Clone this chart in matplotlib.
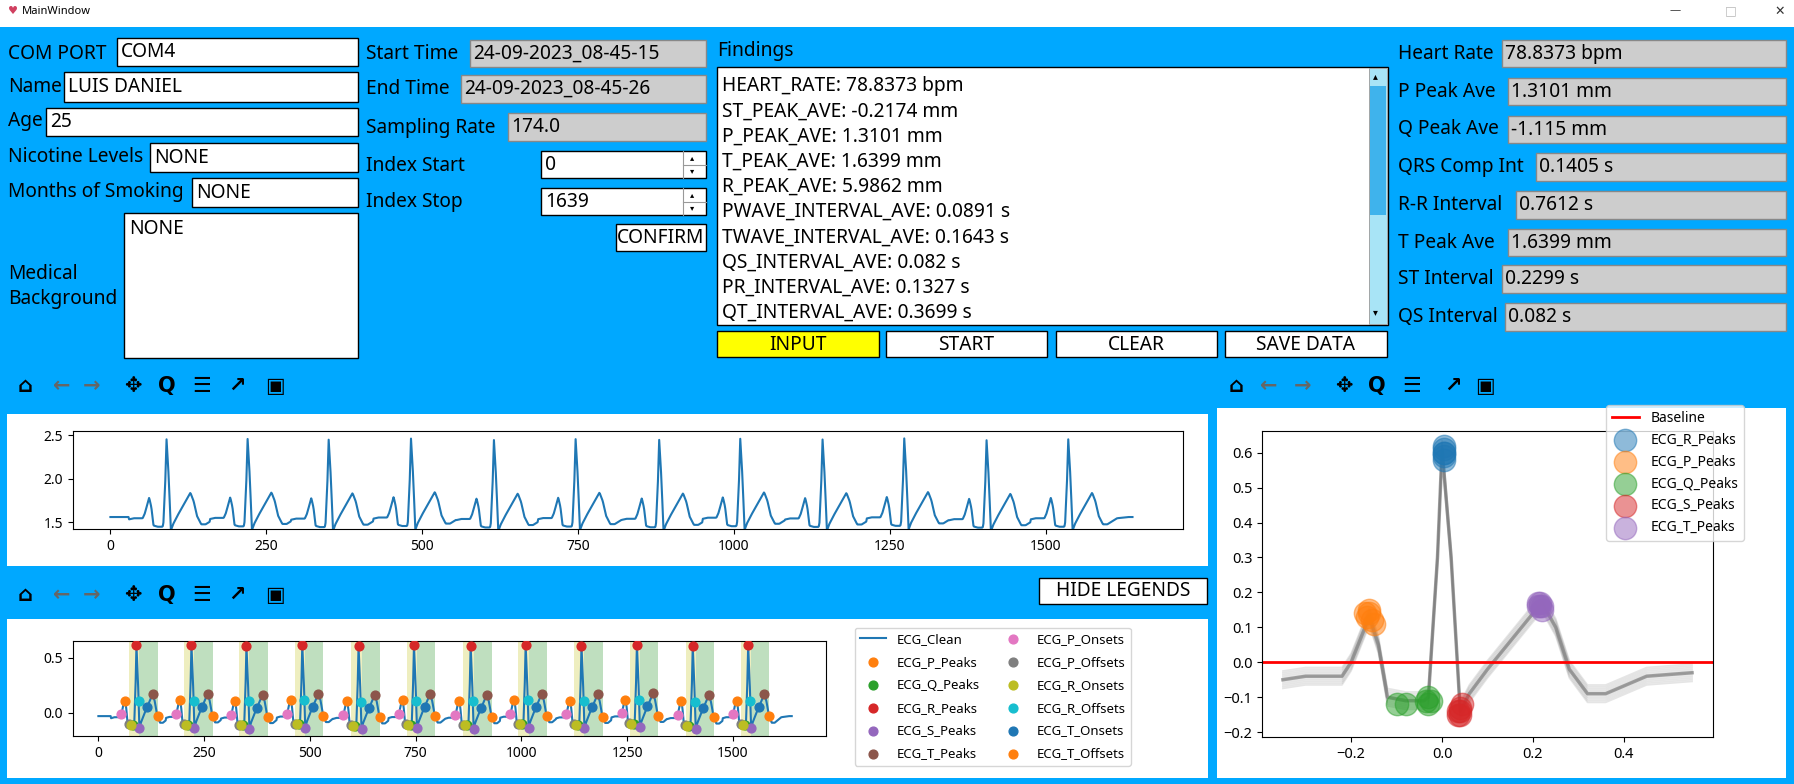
import numpy as np
import matplotlib
matplotlib.use("Agg")
import matplotlib.pyplot as plt
from matplotlib.patches import Rectangle

plt.rcParams['font.family'] = ['Noto Sans', 'DejaVu Sans']

W, H = 1794, 784
FS = 174.0

# ---------------- data ----------------
r_peaks = [90, 220, 350, 482, 615, 746, 880, 1010, 1142, 1273, 1405, 1536]
tmpl_t = [-0.35, -0.30, -0.22, -0.20, -0.16, -0.14, -0.12, -0.08, -0.04, -0.03, -0.01,
          0.0, 0.02, 0.04, 0.06, 0.10, 0.15, 0.20, 0.22, 0.25, 0.28, 0.32, 0.36, 0.45, 0.55]
tmpl_v = [-0.05, -0.04, -0.04, 0.00, 0.13, 0.05, -0.10, -0.11, -0.11, -0.10, 0.30,
          0.61, 0.30, -0.14, -0.09, -0.02, 0.06, 0.14, 0.17, 0.10, -0.02, -0.09, -0.09, -0.04, -0.03]
beat_offsets = [0.0, 0.01, -0.01, 0.02, -0.02, 0.005, -0.015, 0.015, -0.005, 0.025, -0.025, 0.0]
raw_offset, raw_gain = 1.60, 1.40
n_samples = 1640

wave_points = {  # sample offsets relative to R peak
    'ECG_P_Peaks': -27, 'ECG_Q_Peaks': -8, 'ECG_R_Peaks': 0, 'ECG_S_Peaks': 7,
    'ECG_T_Peaks': 38, 'ECG_P_Onsets': -36, 'ECG_P_Offsets': -18, 'ECG_R_Onsets': -13,
    'ECG_R_Offsets': 5, 'ECG_T_Onsets': 25, 'ECG_T_Offsets': 50}
wave_colors = {'ECG_P_Peaks': 'C1', 'ECG_Q_Peaks': 'C2', 'ECG_R_Peaks': 'C3', 'ECG_S_Peaks': 'C4',
               'ECG_T_Peaks': 'C5', 'ECG_P_Onsets': 'C6', 'ECG_P_Offsets': 'C7',
               'ECG_R_Onsets': 'C8', 'ECG_R_Offsets': 'C9', 'ECG_T_Onsets': 'C0', 'ECG_T_Offsets': 'C1'}

avg_peaks = {'ECG_R_Peaks': ([0.005] * 6, [0.61, 0.60, 0.58, 0.62, 0.59, 0.60], 'C0'),
             'ECG_P_Peaks': ([-0.165, -0.16, -0.155, -0.16, -0.17, -0.15], [0.13, 0.14, 0.12, 0.15, 0.14, 0.11], 'C1'),
             'ECG_Q_Peaks': ([-0.1, -0.08, -0.03, -0.035, -0.03, -0.025], [-0.12, -0.12, -0.10, -0.11, -0.12, -0.11], 'C2'),
             'ECG_S_Peaks': ([0.035, 0.04, 0.04, 0.045, 0.035, 0.04], [-0.15, -0.14, -0.13, -0.12, -0.14, -0.15], 'C3'),
             'ECG_T_Peaks': ([0.21, 0.215, 0.22, 0.215, 0.22, 0.21], [0.17, 0.16, 0.15, 0.17, 0.16, 0.16], 'C4')}

findings = ["HEART_RATE: 78.8373 bpm", "ST_PEAK_AVE: -0.2174 mm", "P_PEAK_AVE: 1.3101 mm",
            "T_PEAK_AVE: 1.6399 mm", "R_PEAK_AVE: 5.9862 mm", "PWAVE_INTERVAL_AVE: 0.0891 s",
            "TWAVE_INTERVAL_AVE: 0.1643 s", "QS_INTERVAL_AVE: 0.082 s", "PR_INTERVAL_AVE: 0.1327 s",
            "QT_INTERVAL_AVE: 0.3699 s"]

# ---------------- build signals ----------------
n = np.arange(n_samples)
clean = np.full(n_samples, -0.03)
for k, r in enumerate(r_peaks):
    t = (n - r) / FS
    m = (t >= -0.35) & (t <= 0.55)
    clean[m] = np.interp(t[m], tmpl_t, tmpl_v) + beat_offsets[k] * 0.3
raw = raw_offset + raw_gain * clean

BLUE = '#00a8ff'
F = 13.8
fig = plt.figure(figsize=(W / 100, H / 100), dpi=100)
fig.patch.set_facecolor(BLUE)
ov = fig.add_axes([0, 0, 1, 1])
ov.set_xlim(0, W); ov.set_ylim(H, 0); ov.axis('off')

def box(x0, y0, x1, y1, fc='white', ec='black', lw=1.0):
    ov.add_patch(Rectangle((x0, y0), x1 - x0, y1 - y0, fc=fc, ec=ec, lw=lw))

def txt(x, y, s, fs=F, **kw):
    ov.text(x, y, s, fontsize=fs, va='center', **kw)

# title bar
box(0, 0, W, 27, fc='white', ec='none')
txt(8, 11, '\u2665', fs=8, color='#d04060')
txt(22, 11, 'MainWindow', fs=8)
txt(1670, 11, '\u2014', fs=8, color='#333')
txt(1725, 11, '\u25a1', fs=9, color='#bbb')
txt(1774, 11, '\u2715', fs=9, color='#333')

# left column
left = [("COM PORT", 54, 117, 38, 66, "COM4"), ("Name", 87, 64, 72, 102, "LUIS DANIEL"),
        ("Age", 121, 46, 108, 136, "25"), ("Nicotine Levels", 157, 150, 143, 172, "NONE"),
        ("Months of Smoking", 192, 192, 178, 207, "NONE")]
for lab, y, bx, y0, y1, val in left:
    txt(8, y, lab)
    box(bx, y0, 358, y1)
    txt(bx + 4, (y0 + y1) / 2, val)
box(124, 213, 358, 358)
txt(129, 229, "NONE")
txt(8, 274, "Medical"); txt(8, 299, "Background")

# middle column
mid = [("Start Time", 54, 470, 40, 67, "24-09-2023_08-45-15"),
       ("End Time", 89, 461, 75, 103, "24-09-2023_08-45-26"),
       ("Sampling Rate", 128, 508, 113, 141, "174.0")]
for lab, y, bx, y0, y1, val in mid:
    txt(366, y, lab)
    box(bx, y0, 706, y1, fc='#cdcdcd', ec='#888')
    txt(bx + 3, (y0 + y1) / 2, val)
for lab, y, y0, y1, val in [("Index Start", 166, 151, 178, "0"), ("Index Stop", 202, 188, 215, "1639")]:
    txt(366, y, lab)
    box(541, y0, 706, y1)
    txt(545, (y0 + y1) / 2, val)
    ov.plot([683, 683], [y0, y1], color='#999', lw=0.8)
    ov.plot([683, 706], [(y0 + y1) / 2] * 2, color='#999', lw=0.8)
    txt(690, y0 + 7, '\u25b4', fs=6); txt(690, y1 - 7, '\u25be', fs=6)
box(616, 224, 706, 251)
txt(661, 238, "CONFIRM", ha='center')

# findings
txt(717, 51, "Findings")
box(717, 67, 1388, 325)
for i, s in enumerate(findings):
    txt(722, 86 + i * 25.2, s)
box(1369, 68, 1387, 324, fc='#a8e4f6', ec='#999', lw=0.6)
box(1370, 86, 1386, 215, fc='#3fb3ec', ec='none')
txt(1373, 77, '\u25b4', fs=7); txt(1373, 313, '\u25be', fs=7)
for lab, x0, x1, fc in [("INPUT", 717, 879, '#ffff00'), ("START", 886, 1047, 'white'),
                        ("CLEAR", 1056, 1217, 'white'), ("SAVE DATA", 1225, 1387, 'white')]:
    box(x0, 331, x1, 357, fc=fc)
    txt((x0 + x1) / 2, 345, lab, ha='center')

# right column
right = [("Heart Rate", 54, 1502, 40, 67, "78.8373 bpm"), ("P Peak Ave", 92, 1508, 78, 105, "1.3101 mm"),
         ("Q Peak Ave", 129, 1508, 116, 143, "-1.115 mm"), ("QRS Comp Int", 167, 1536, 153, 181, "0.1405 s"),
         ("R-R Interval", 205, 1516, 191, 219, "0.7612 s"), ("T Peak Ave", 243, 1508, 229, 256, "1.6399 mm"),
         ("ST Interval", 279, 1502, 265, 293, "0.2299 s"), ("QS Interval", 317, 1505, 303, 331, "0.082 s")]
for lab, y, bx, y0, y1, val in right:
    txt(1398, y, lab)
    box(bx, y0, 1786, y1, fc='#cdcdcd', ec='#888')
    txt(bx + 3, (y0 + y1) / 2, val)

# toolbars
icons = ['\u2302', '\u2190', '\u2192', '\u2725', 'Q', '\u2630', '\u2197', '\u25a3']
icol = ['black', '#666', '#666', 'black', 'black', 'black', 'black', 'black']
for xs, y in [([25, 62, 92, 133, 167, 202, 237, 275], 386), ([25, 62, 92, 133, 167, 202, 237, 275], 595),
              ([1236, 1269, 1303, 1344, 1377, 1412, 1453, 1485], 386)]:
    for x, ic, c in zip(xs, icons, icol):
        txt(x, y, ic, fs=15, ha='center', color=c, fontweight='bold', family=['DejaVu Sans'])
box(1039, 578, 1207, 604)
txt(1123, 591, "HIDE LEGENDS", ha='center')

# white panels
box(7, 414, 1208, 566, ec='none')
box(7, 619, 1208, 778, ec='none')
box(1217, 408, 1786, 778, ec='none')

def pax(x0, y0, x1, y1):
    return fig.add_axes([x0 / W, 1 - y1 / H, (x1 - x0) / W, (y1 - y0) / H])

# top raw plot
a1 = pax(73, 431, 1183, 529)
a1.plot(n, raw, color='C0', lw=1.5)
a1.set_xlim(-60, 1720); a1.set_ylim(1.42, 2.55)
a1.set_xticks([0, 250, 500, 750, 1000, 1250, 1500]); a1.set_yticks([1.5, 2.0, 2.5])
a1.tick_params(labelsize=10)

# bottom annotated plot
a2 = pax(73, 641, 826, 736)
a2.plot(n, clean, color='C0', lw=1.5, label='ECG_Clean', zorder=2)
for r in r_peaks:
    a2.axvspan(r - 17, r + 7, color='y', alpha=0.25, lw=0)
    a2.axvspan(r + 7, r + 50, color='g', alpha=0.25, lw=0)
for name, off in wave_points.items():
    idx = [r + off for r in r_peaks if 0 <= r + off < n_samples]
    a2.scatter(idx, clean[idx], color=wave_colors[name], s=40, zorder=3, label=name)
a2.set_xlim(-60, 1720); a2.set_ylim(-0.21, 0.65)
a2.set_xticks([0, 250, 500, 750, 1000, 1250, 1500]); a2.set_yticks([0.0, 0.5])
a2.tick_params(labelsize=10)
a2.legend(loc='upper left', bbox_to_anchor=(848 / W, 1 - 621 / H), bbox_transform=fig.transFigure,
          ncol=2, fontsize=9.5, labelspacing=0.75, columnspacing=1.5)

# right averaged-beat plot
a3 = pax(1262, 431, 1713, 737)
for k, r in enumerate(r_peaks):
    tt = np.array(tmpl_t); vv = np.array(tmpl_v) + beat_offsets[k]
    a3.plot(tt, vv, color='grey', alpha=0.2, lw=1.2)
a3.plot(tmpl_t, tmpl_v, color='grey', alpha=0.7, lw=2.5)
a3.axhline(0, color='red', lw=2, label='Baseline')
for name, (xs, ys, c) in avg_peaks.items():
    a3.scatter(xs, ys, s=260, color=c, alpha=0.5, label=name, zorder=3)
a3.set_xlim(-0.396, 0.596); a3.set_ylim(-0.214, 0.662)
a3.set_xticks([-0.2, 0.0, 0.2, 0.4])
a3.tick_params(labelsize=10.5)
a3.legend(loc='upper left', bbox_to_anchor=(1606 / W, 1 - 405 / H), bbox_transform=fig.transFigure,
          fontsize=10, framealpha=0.8, borderaxespad=0)

fig.savefig('out.png', dpi=100, facecolor=BLUE)
